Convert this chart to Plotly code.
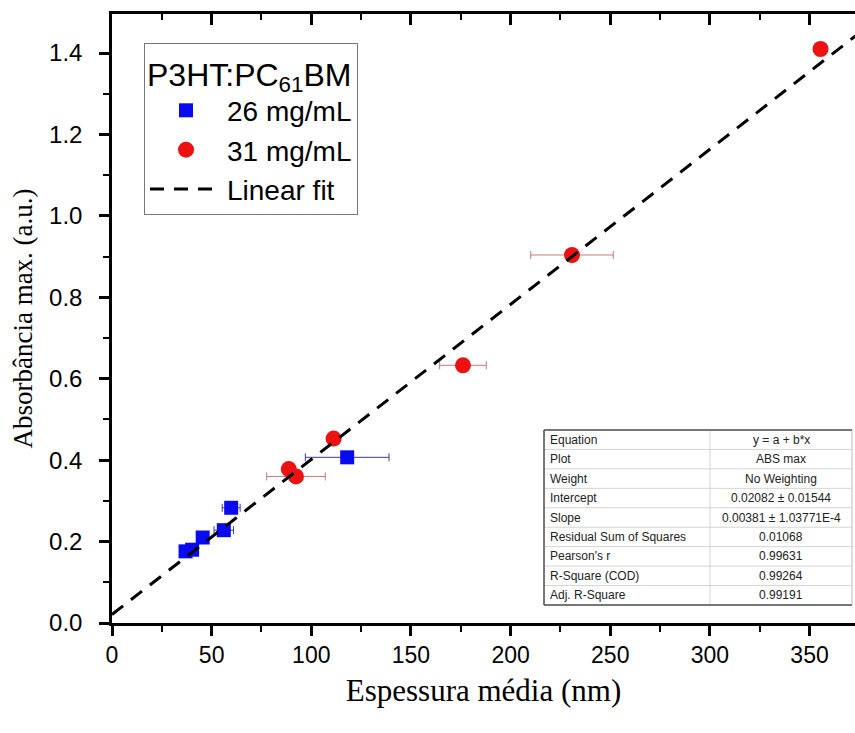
import plotly.graph_objects as go

# Mean thickness (nm) and max absorbance for each concentration
thick_26 = [36.9, 40.2, 45.5, 56.1, 59.8, 118.0]
abs_26 = [0.176, 0.180, 0.210, 0.228, 0.283, 0.407]
err_26 = [2.0, 2.0, 2.0, 4.9, 4.5, 21.0]

thick_31 = [88.7, 92.3, 111.2, 176.1, 230.8, 355.5]
abs_31 = [0.378, 0.360, 0.453, 0.633, 0.904, 1.410]
err_31 = [1.5, 14.7, 1.0, 11.7, 20.7, 0.0]

# Linear fit parameters (y = a + b*x)
intercept = 0.02082
slope = 0.00381
fit_x = [0.0, 373.0]

table_labels = ["Equation", "Plot", "Weight", "Intercept", "Slope",
                "Residual Sum of Squares", "Pearson's r", "R-Square (COD)",
                "Adj. R-Square"]
table_values = ["y = a + b*x", "ABS max", "No Weighting", "0.02082 ± 0.01544",
                "0.00381 ± 1.03771E-4", "0.01068", "0.99631", "0.99264",
                "0.99191"]

# tick spacing: major / minor
x_major, x_minor = 50, 25
y_major, y_minor = 0.2, 0.1

W, H = 855, 733
ML, MR, MT, MB = 112, 0, 14, 110
X_RANGE = [0, 372.8]
Y_RANGE = [0, 1.496]

fig = go.Figure()

fig.add_trace(go.Scatter(
    x=thick_26, y=abs_26, mode="markers", name="26 mg/mL",
    marker=dict(symbol="square", size=14, color="#0a0af0"),
    error_x=dict(type="data", array=err_26, color="#3c3c96", thickness=1, width=4),
))
fig.add_trace(go.Scatter(
    x=thick_31, y=abs_31, mode="markers", name="31 mg/mL",
    marker=dict(symbol="circle", size=16, color="#ee1111"),
    error_x=dict(type="data", array=err_31, color="#c87878", thickness=1, width=4),
))
fig.add_trace(go.Scatter(
    x=fit_x, y=[intercept + slope * v for v in fit_x], mode="lines",
    name="Linear fit",
    line=dict(color="black", width=3, dash="14px,10px"),
))
# carrier for the mirrored top axis (kept below the visible y range)
fig.add_trace(go.Scatter(x=fit_x, y=[-1, -1], xaxis="x2", mode="lines",
                         line=dict(width=0), showlegend=False, hoverinfo="skip"))

sans = "Liberation Sans, Arial, sans-serif"
serif = "Liberation Serif, Times New Roman, serif"

fig.update_layout(
    width=W, height=H,
    margin=dict(l=ML, r=MR, t=MT, b=MB),
    paper_bgcolor="white", plot_bgcolor="white",
    xaxis=dict(
        range=X_RANGE, tick0=0, dtick=x_major, ticks="outside", ticklen=10,
        tickwidth=2.5, tickcolor="black", showline=True, linecolor="black",
        linewidth=2.5, showgrid=False, zeroline=False,
        tickfont=dict(family=sans, size=23, color="black"),
        minor=dict(dtick=x_minor, tick0=0, ticks="outside", ticklen=6, tickwidth=2,
                   tickcolor="black", showgrid=False),
        title=dict(text="Espessura média (nm)",
                   font=dict(family=serif, size=31, color="black"), standoff=12),
    ),
    xaxis2=dict(
        range=X_RANGE, overlaying="x", side="top", tick0=0, dtick=x_major,
        ticks="inside", ticklen=11, tickwidth=2.5, tickcolor="black",
        showticklabels=False, showline=True, linecolor="black", linewidth=2.5,
        showgrid=False, zeroline=False,
        minor=dict(dtick=x_minor, tick0=0, ticks="inside", ticklen=6, tickwidth=2,
                   tickcolor="black", showgrid=False),
    ),
    yaxis=dict(
        range=Y_RANGE, tick0=0, dtick=y_major, tickformat=".1f", ticks="outside",
        ticklen=10, tickwidth=2.5, tickcolor="black", showline=True,
        linecolor="black", linewidth=2.5, showgrid=False, zeroline=False,
        tickfont=dict(family=sans, size=24, color="black"), ticksuffix="\u2002",
        minor=dict(dtick=y_minor, tick0=0, ticks="outside", ticklen=6, tickwidth=2,
                   tickcolor="black", showgrid=False),
        title=dict(text="Absorbância max. (a.u.)",
                   font=dict(family=serif, size=27, color="black"), standoff=9),
    ),
    legend=dict(
        x=(144 - ML) / (W - ML - MR), y=(H - MB - 43) / (H - MT - MB),
        xanchor="left", yanchor="top",
        bgcolor="white", bordercolor="#777777", borderwidth=1,
        font=dict(family=sans, size=28, color="black"),
        title=dict(text="P3HT:PC<sub>61</sub>BM",
                   font=dict(family=sans, size=32, color="black")),
        itemwidth=72, tracegroupgap=0,
    ),
    showlegend=True,
)

# Fit results table (pixel layout converted to paper coordinates)
pw, ph = W - ML - MR, H - MT - MB


def px(xp):
    return (xp - ML) / pw


def py(yp):
    return (H - MB - yp) / ph


t_left, t_mid, t_right = 544, 710, 852
t_top, t_bot = 430, 605
row_h = (t_bot - t_top) / len(table_labels)

fig.add_shape(type="rect", xref="paper", yref="paper",
              x0=px(t_left), x1=px(t_right), y0=py(t_bot), y1=py(t_top),
              fillcolor="white", line=dict(color="#bbbbbb", width=1), layer="above")
for i in range(1, len(table_labels)):
    yy = t_top + i * row_h
    fig.add_shape(type="line", xref="paper", yref="paper",
                  x0=px(t_left), x1=px(t_right), y0=py(yy), y1=py(yy),
                  line=dict(color="#d4d4d4", width=1), layer="above")
fig.add_shape(type="line", xref="paper", yref="paper",
              x0=px(t_mid), x1=px(t_mid), y0=py(t_bot), y1=py(t_top),
              line=dict(color="#d4d4d4", width=1), layer="above")
# darker outer edges on left, top and bottom
for (a, b, c, d) in [(t_left, t_top, t_right, t_top), (t_left, t_bot, t_right, t_bot),
                     (t_left, t_top, t_left, t_bot)]:
    fig.add_shape(type="line", xref="paper", yref="paper",
                  x0=px(a), x1=px(c), y0=py(b), y1=py(d),
                  line=dict(color="#555555", width=1.5), layer="above")

cell_font = dict(family=sans, size=12, color="#222222")
for i, (lab, val) in enumerate(zip(table_labels, table_values)):
    yc = t_top + (i + 0.5) * row_h
    fig.add_annotation(xref="paper", yref="paper", x=px(t_left + 4), y=py(yc),
                       text=lab, showarrow=False, xanchor="left", yanchor="middle",
                       font=cell_font)
    fig.add_annotation(xref="paper", yref="paper", x=px((t_mid + t_right) / 2),
                       y=py(yc), text=val, showarrow=False, xanchor="center",
                       yanchor="middle", font=cell_font)

fig.write_html("out.html")
